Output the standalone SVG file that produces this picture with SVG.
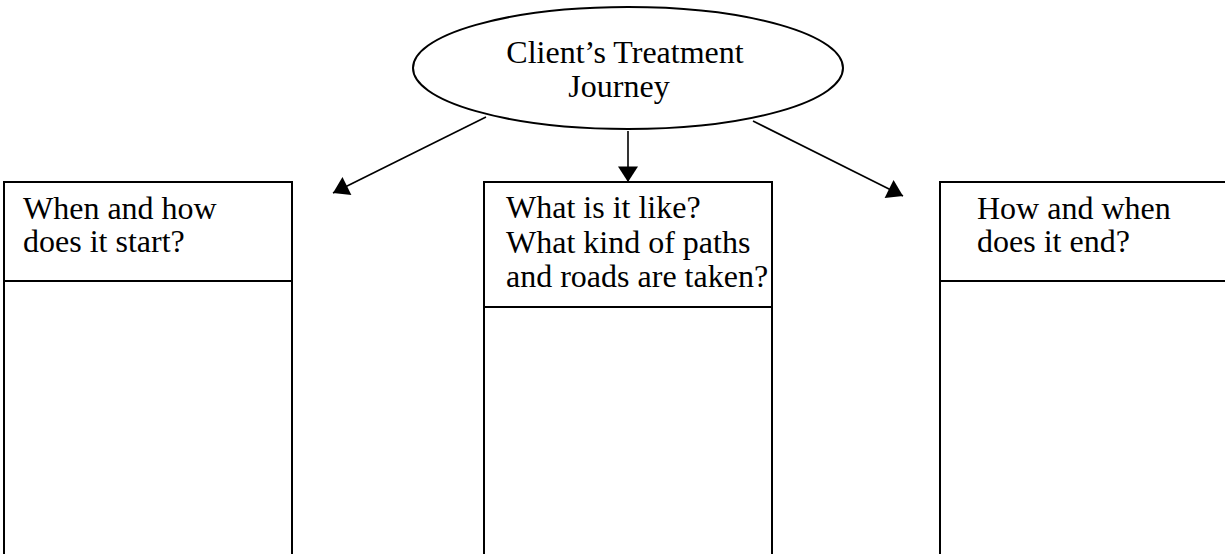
<svg xmlns="http://www.w3.org/2000/svg" width="1225" height="554" viewBox="0 0 1225 554">
<defs>
<style>
.box{fill:#fff;stroke:#000;stroke-width:2}
.t{font-family:"Liberation Serif","Times New Roman",serif;font-size:32px;fill:#000}
.c{stroke:#000;stroke-width:1.6;fill:none}
</style>
<marker id="ah" markerUnits="userSpaceOnUse" markerWidth="20" markerHeight="20" viewBox="0 0 14 18" refX="14" refY="9" orient="auto">
<path d="M0,0 L14,9 L0,18 Z" fill="#000"/>
</marker>
</defs>
<rect width="1225" height="554" fill="#fff"/>
<g id="connectors">
<line class="c" x1="486" y1="117" x2="333" y2="193" marker-end="url(#ah)"/>
<line class="c" x1="628" y1="131" x2="628" y2="182" marker-end="url(#ah)"/>
<line class="c" x1="753" y1="121" x2="903" y2="196" marker-end="url(#ah)"/>
</g>
<g id="root">
<ellipse cx="628" cy="68" rx="215" ry="61" fill="#fff" stroke="#000" stroke-width="2"/>
<text class="t" x="625" y="63" text-anchor="middle">Client’s Treatment</text>
<text class="t" x="619" y="97" text-anchor="middle">Journey</text>
</g>
<g id="start">
<path class="box" d="M4,556 V182 H292 V556"/>
<line x1="4" y1="281" x2="292" y2="281" stroke="#000" stroke-width="2"/>
<text class="t" x="23" y="219">When and how</text>
<text class="t" x="23" y="252">does it start?</text>
</g>
<g id="middle">
<path class="box" d="M484,556 V182 H772 V556"/>
<line x1="484" y1="307" x2="772" y2="307" stroke="#000" stroke-width="2"/>
<text class="t" x="506" y="218">What is it like?</text>
<text class="t" x="506" y="253">What kind of paths</text>
<text class="t" x="506" y="287">and roads are taken?</text>
</g>
<g id="end">
<path class="box" d="M940,556 V182 H1228 V556"/>
<line x1="940" y1="281" x2="1228" y2="281" stroke="#000" stroke-width="2"/>
<text class="t" x="977" y="219">How and when</text>
<text class="t" x="977" y="252">does it end?</text>
</g>
</svg>
